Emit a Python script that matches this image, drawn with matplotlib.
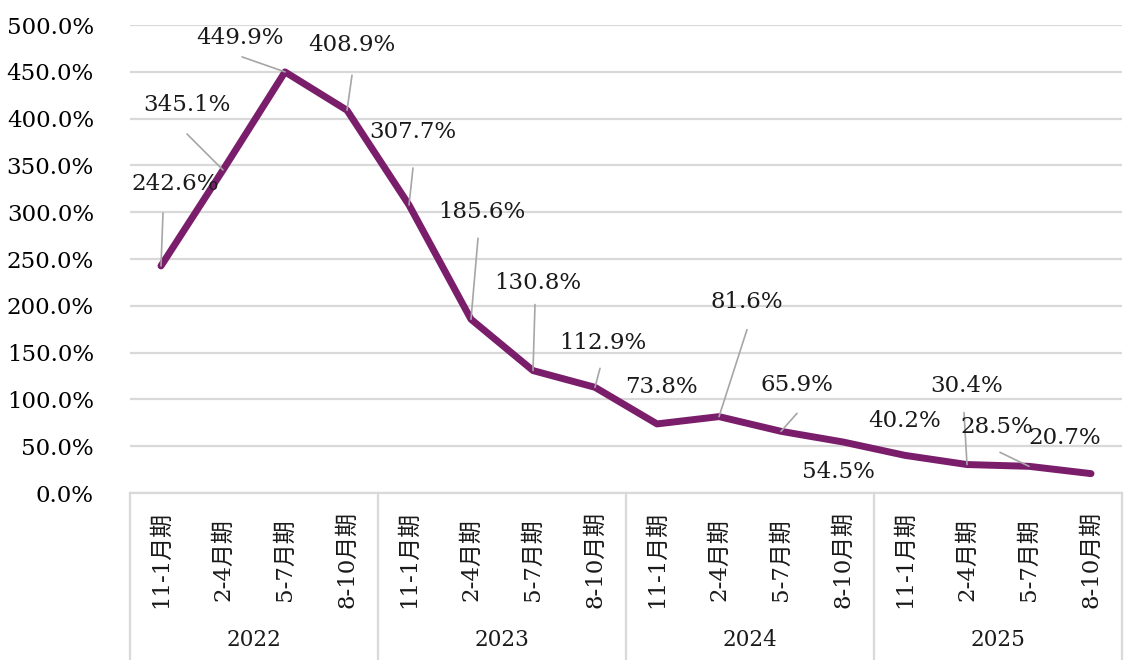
import matplotlib
matplotlib.use('Agg')
import matplotlib.pyplot as plt
import matplotlib.transforms as mtransforms

plt.rcParams['font.family'] = ['DejaVu Serif', 'Noto Sans CJK SC']

# data
years = ['2022', '2023', '2024', '2025']
periods = ['11-1月期', '2-4月期', '5-7月期', '8-10月期']
values = [242.6, 345.1, 449.9, 408.9,
          307.7, 185.6, 130.8, 112.9,
          73.8, 81.6, 65.9, 54.5,
          40.2, 30.4, 28.5, 20.7]

# label offsets (pixels from point) and leader line end offsets (None = no leader)
label_off = [(14, 82), (-36, 65), (-45, 34), (5, 65),
             (4, 73), (11, 107), (5, 88), (8, 44),
             (4, 37), (28, 115), (16, 46), (-5, -30),
             (0, 34), (0, 79), (-32, 39), (-26, 36)]
leader_off = [(2, 53), (-36, 36), (-43, 15), (5, 35),
              (4, 37), (7, 81), (2, 66), (5, 19),
              None, (28, 87), (16, 18), None,
              None, (-3, 52), (-29, 14), None]

line_color = '#7a1e6c'
grid_color = '#d9d9d9'

fig = plt.figure(figsize=(11.24, 6.6), dpi=100)
ax = fig.add_axes([130 / 1124, 167 / 660, 992 / 1124, 468 / 660])

x = list(range(len(values)))
ax.plot(x, values, color=line_color, lw=5, solid_capstyle='round', zorder=3)

ax.set_xlim(-0.5, len(values) - 0.5)
ax.set_ylim(0, 500)
ax.set_yticks(range(0, 501, 50))
ax.set_yticklabels([f'{v:.1f}%' for v in range(0, 501, 50)], fontsize=16.5)
ax.tick_params(axis='y', length=0, pad=26)
ax.set_xticks([])
for s in ax.spines.values():
    s.set_visible(False)
ax.yaxis.grid(True, color=grid_color, lw=1.6)
ax.set_axisbelow(True)

# data labels
for i, v in enumerate(values):
    ax.annotate(f'{v:.1f}%', xy=(i, v), xytext=label_off[i], textcoords='offset pixels',
                ha='center', va='center', fontsize=16.5, color='#1a1a1a', zorder=5)
    if leader_off[i] is not None:
        ax.annotate('', xy=(i, v), xytext=leader_off[i], textcoords='offset pixels',
                    arrowprops=dict(arrowstyle='-', color='#a6a6a6', lw=1.2,
                                    shrinkA=0, shrinkB=0), zorder=4)

# two-level category axis
trans = mtransforms.blended_transform_factory(ax.transData, ax.transAxes)
bottom = -167 / 468
ax.plot([-0.5, len(values) - 0.5], [0, 0], transform=trans, color=grid_color,
        lw=1.6, clip_on=False)
for k in range(len(years) + 1):
    xb = -0.5 + 4 * k
    ax.plot([xb, xb], [0, bottom], transform=trans, color=grid_color, lw=1.6, clip_on=False)

for i in x:
    ax.text(i, -67 / 468, periods[i % 4], transform=trans, rotation=90,
            ha='center', va='center', fontsize=16.5, color='#1a1a1a')
for k, yr in enumerate(years):
    ax.text(4 * k + 1.5, -147 / 468, yr, transform=trans, ha='center', va='center',
            fontsize=15.5, color='#1a1a1a')

plt.savefig('out.png', dpi=100)
